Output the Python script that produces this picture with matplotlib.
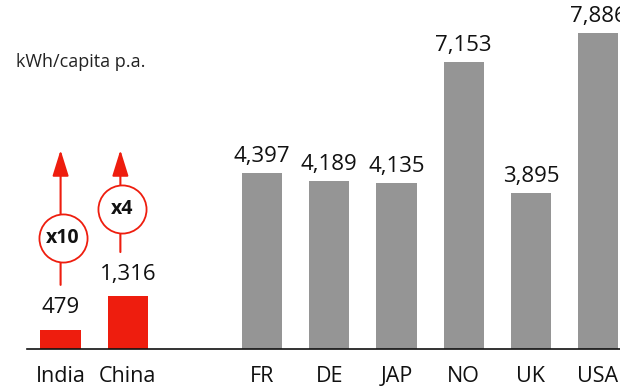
import matplotlib
matplotlib.use("Agg")
import matplotlib.pyplot as plt
import numpy as np

plt.rcParams['font.family'] = ['Open Sans', 'DejaVu Sans']

countries = ['India', 'China', 'FR', 'DE', 'JAP', 'NO', 'UK', 'USA']
kwh = [479, 1316, 4397, 4189, 4135, 7153, 3895, 7886]
positions = [0, 1, 3, 4, 5, 6, 7, 8]
growth = ['x10', 'x4']

RED = '#EE1D0E'
GREY = '#959595'

fig = plt.figure(figsize=(6.2, 3.91), dpi=100)
ax = fig.add_axes([27 / 620, 42 / 391, 1 - 27 / 620, 349 / 391])

colors = [RED, RED] + [GREY] * 6
ax.bar(positions, kwh, width=0.6, color=colors, zorder=2)

for i, (x, v) in enumerate(zip(positions, kwh)):
    off = 12 if i < 2 else 8
    ax.annotate(f"{v:,}", (x, v), xytext=(0, off), textcoords='offset points',
                ha='center', va='baseline', fontsize=16, color='#111111')

# growth arrows for India and China
arrow_x = [0, 0.89]
arrow_base = [1600, 2420]
circle_y = [2770, 3490]
arrow_tip = 4966
for x, y0, yc, lbl in zip(arrow_x, arrow_base, circle_y, growth):
    ax.annotate('', xy=(x, arrow_tip), xytext=(x, y0),
                arrowprops=dict(arrowstyle='-|>,head_length=0.8,head_width=0.25',
                                mutation_scale=20, color=RED, lw=1.5,
                                shrinkA=0, shrinkB=0), zorder=3)
    ax.scatter([x + 0.03], [yc], s=1200, marker='o', facecolor='white',
               edgecolor=RED, linewidth=1.3, zorder=4)
    ax.text(x + 0.03, yc, lbl, ha='center', va='center', fontsize=14,
            fontweight='bold', color='#111111', zorder=5)

ax.set_xlim(-0.5, 8.327)
ax.set_ylim(0, 8710)
ax.set_xticks(positions)
ax.set_xticklabels(countries, fontsize=15.5, color='#111111')
ax.tick_params(axis='x', length=0, pad=12)
ax.set_yticks([])
for s in ['top', 'left', 'right']:
    ax.spines[s].set_visible(False)
ax.spines['bottom'].set_linewidth(1.2)
ax.spines['bottom'].set_color('#111111')

fig.text(16 / 620, 1 - 67 / 391, 'kWh/capita p.a.', fontsize=13,
         va='baseline', ha='left', color='#222222')

fig.savefig('out.png', dpi=100)
